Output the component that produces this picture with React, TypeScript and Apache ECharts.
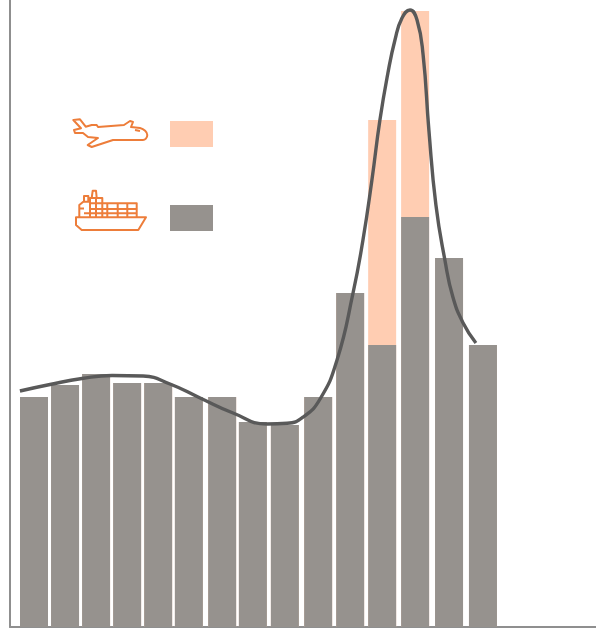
import React, { useEffect, useRef } from "react";
import * as echarts from "echarts";

const barX = [0, 0.97, 1.94, 2.91, 3.88, 4.84, 5.88, 6.84, 7.84, 8.88, 9.88, 10.88, 11.91, 12.97, 14.03];
const seaValues = [230, 242, 253, 244, 244, 230, 230, 205, 202, 230, 334, 282, 410, 369, 282];
const airValues = [0, 0, 0, 0, 0, 0, 0, 0, 0, 0, 0, 225, 206, 0, 0];
const trendX = [-0.44, 0.5, 1.5, 2.44, 3.41, 4.25, 5.19, 6.22, 7.28, 7.91, 8.41, 8.94, 9.47, 9.97, 10.28, 10.56, 10.81, 11.06, 11.28, 11.5, 11.75, 11.97, 12.16, 12.34, 12.56, 12.84, 13.09, 13.41, 13.81];
const trendValues = [236, 242.5, 248.5, 251.5, 251, 243, 229, 214, 203, 203.7, 210, 228, 267, 334, 387, 447, 507, 554, 587, 609, 617, 607, 572, 497, 422, 367, 330, 304, 284];

const planePath =
  "M73.3 120 L80 119.3 L85.7 126.7 L91.7 125 L96.7 125 L98 127 L124 125 L130 121 L133 122 L131 127 L140 128 C144 129 147.3 132 147.3 135 C147.3 138 145 140 143 140 L113 140 L91.7 147 L87.7 145 L98 138 L88 137 L83 133 L75 133 L74 130 L81 128.3 Z M135 130 L140 131";
const shipPath =
  "M76 217.3 L146 217.3 L138.3 230 L81.7 230 L76 225 Z M79.3 217 L79.3 205 L83.3 201.7 L90 201.7 M84 202 L84 196 L88.3 196 L88.3 202 M91.7 198 L92.7 190.7 L96 190.7 L96.7 198 M90 217.3 L90 198 L102.3 198 L102.3 203.3 M90 203.3 L136.7 203.3 L136.7 217.3 M90 209 L136.7 209 M84 213.3 L136.7 213.3 M96 198 L96 217.3 M102.3 203.3 L102.3 217.3 M107.3 203.3 L107.3 217.3 M117.7 203.3 L117.7 217.3 M127.3 203.3 L127.3 217.3 M80 208.5 L84 208.5";

const AXIS = "#8f8f8f";
const SEA = "#96928e";
const AIR = "#ffcdb2";
const ICON = "#ed7d3a";

echarts.graphic.registerShape("planeIcon", echarts.graphic.extendPath(planePath, {}));
echarts.graphic.registerShape("shipIcon", echarts.graphic.extendPath(shipPath, {}));

export default function App() {
  const ref = useRef<HTMLDivElement>(null);
  useEffect(() => {
    const chart = echarts.init(ref.current!, null, { renderer: "svg" });
    const iconStyle = { fill: "none", stroke: ICON, lineWidth: 2, lineJoin: "round" };
    chart.setOption({
      animation: false,
      backgroundColor: "#ffffff",
      grid: { left: 10, right: 0, top: 0, bottom: 1, containLabel: false },
      xAxis: {
        type: "value",
        min: -0.75,
        max: 17.5625,
        splitLine: { show: false },
        axisTick: { show: false },
        axisLabel: { show: false },
        axisLine: { show: true, onZero: false, lineStyle: { color: AXIS, width: 2 } },
      },
      yAxis: {
        type: "value",
        min: 0,
        max: 627,
        splitLine: { show: false },
        axisTick: { show: false },
        axisLabel: { show: false },
        axisLine: { show: true, onZero: false, lineStyle: { color: AXIS, width: 2 } },
      },
      legend: {
        left: 170,
        top: 121,
        orient: "vertical",
        itemWidth: 43,
        itemHeight: 26,
        itemGap: 58,
        icon: "rect",
        padding: 0,
        selectedMode: false,
        formatter: () => "",
        data: ["Air", "Sea"],
      },
      series: [
        {
          name: "Air",
          type: "bar",
          barWidth: 28,
          barGap: "-100%",
          itemStyle: { color: AIR },
          data: barX.map((x, i) => [x, seaValues[i] + airValues[i]]),
        },
        {
          name: "Sea",
          type: "bar",
          barWidth: 28,
          barGap: "-100%",
          itemStyle: { color: SEA },
          data: barX.map((x, i) => [x, seaValues[i]]),
        },
        {
          name: "Trend",
          type: "line",
          smooth: 0.5,
          showSymbol: false,
          symbol: "none",
          z: 5,
          lineStyle: { color: "#595959", width: 3.4 },
          data: trendValues.map((v, i) => [trendX[i], v]),
        },
      ],
      graphic: [
        { type: "planeIcon", style: iconStyle },
        { type: "shipIcon", style: iconStyle },
      ],
    });
    return () => chart.dispose();
  }, []);
  return <div ref={ref} style={{ position: "fixed", left: 0, top: 0, width: 596, height: 628 }} />;
}
